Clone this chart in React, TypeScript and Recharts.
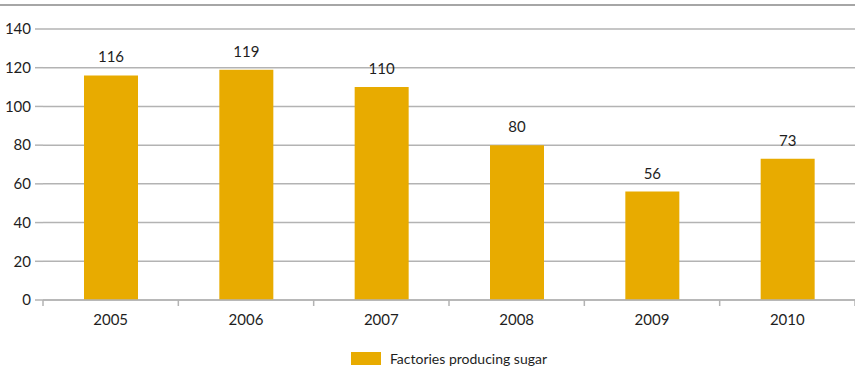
import React from 'react';
import { BarChart, Bar, XAxis, YAxis, CartesianGrid, Legend, LabelList } from 'recharts';

const years = ['2005', '2006', '2007', '2008', '2009', '2010'];
const factories = [116, 119, 110, 80, 56, 73];
const yTicks = [0, 20, 40, 60, 80, 100, 120, 140];

const data = years.map((year, i) => ({ year, factories: factories[i] }));

const W = 855;
const H = 366;
const AXIS_W = 43;
const BAR_COLOR = '#E8AB00';
const GRID = '#b3b3b3';
const TEXT = '#1e1e1e';
const FONT = 'Lato, "Open Sans", sans-serif';

const bandW = (W - AXIS_W) / years.length;

// year label plus the small marks that sit between categories
const YearTick = ({ x, y, payload, index }: any) => (
  <g>
    <line x1={x - bandW / 2} x2={x - bandW / 2} y1={y} y2={y + 6} stroke={GRID} strokeWidth={1.5} />
    {index === years.length - 1 && (
      <line x1={x + bandW / 2} x2={x + bandW / 2} y1={y} y2={y + 6} stroke={GRID} strokeWidth={1.5} />
    )}
    <text x={x} y={y + 25} textAnchor="middle" fill={TEXT} fontSize={15} fontFamily={FONT}>
      {payload.value}
    </text>
  </g>
);

const LegendBox = () => (
  <div style={{ paddingLeft: AXIS_W, height: 36, boxSizing: 'border-box', paddingTop: 21 }}>
    <div style={{ display: 'flex', justifyContent: 'center', alignItems: 'center', height: 14 }}>
      <span style={{ width: 30, height: 13, background: BAR_COLOR, display: 'inline-block', marginRight: 9 }} />
      <span style={{ fontSize: 14, fontFamily: FONT, color: TEXT }}>Factories producing sugar</span>
    </div>
  </div>
);

export default function App() {
  return (
    <div style={{ position: 'absolute', left: 0, top: 0, width: W, height: H, background: '#fff' }}>
      <div style={{ position: 'absolute', left: 0, top: 4, width: W, height: 2, background: '#a6a6a6' }} />
      <BarChart width={W} height={H} data={data} margin={{ top: 29, right: 0, bottom: 0, left: 0 }}>
        <CartesianGrid vertical={false} stroke={GRID} strokeWidth={1.5} />
        <XAxis
          dataKey="year"
          height={30}
          tickSize={0}
          tickMargin={0}
          tickLine={false}
          axisLine={{ stroke: GRID, strokeWidth: 1.5 }}
          tick={<YearTick />}
          interval={0}
        />
        <YAxis
          width={AXIS_W}
          domain={[0, 140]}
          ticks={yTicks}
          axisLine={false}
          tickSize={8}
          tickMargin={4}
          tickLine={{ stroke: GRID, strokeWidth: 1.5 }}
          tick={{ fill: TEXT, fontSize: 15, fontFamily: FONT }}
        />
        <Legend verticalAlign="bottom" height={36} content={<LegendBox />} />
        <Bar dataKey="factories" fill={BAR_COLOR} barSize={54} isAnimationActive={false}>
          <LabelList dataKey="factories" position="top" offset={13} fill={TEXT} fontSize={15} fontFamily={FONT} />
        </Bar>
      </BarChart>
    </div>
  );
}
